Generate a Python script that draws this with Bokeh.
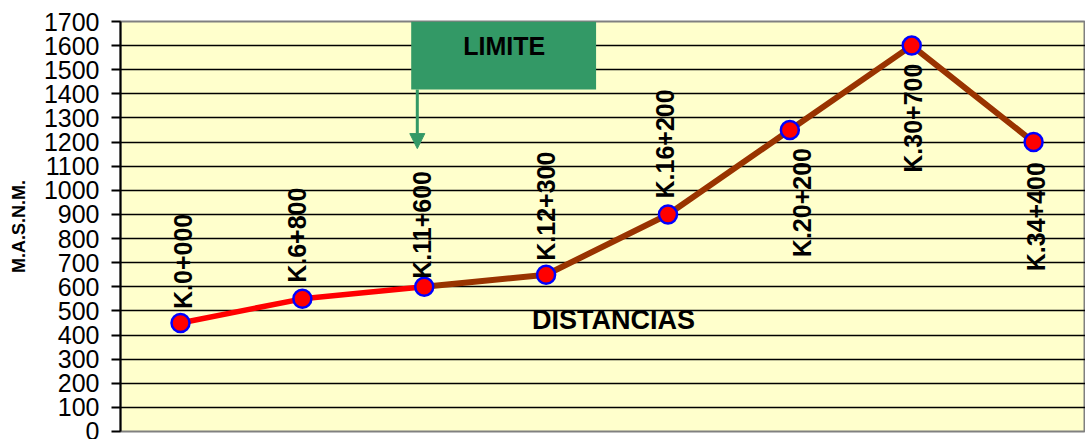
import math
from bokeh.plotting import figure
from bokeh.models import (Range1d, SingleIntervalTicker, ColumnDataSource,
                          BoxAnnotation, Label, Arrow, NormalHead)
from bokeh.core.properties import value
from bokeh.embed import file_html
from bokeh.resources import INLINE

# ---- data ----
stations = ["K.0+000", "K.6+800", "K.11+600", "K.12+300",
            "K.16+200", "K.20+200", "K.30+700", "K.34+400"]
elevations = [450, 550, 600, 650, 900, 1250, 1600, 1200]
positions = list(range(len(stations)))
y_title = "M.A.S.N.M."
x_title = "DISTANCIAS"
limit_text = "LIMITE"

# ---- style / layout parameters ----
RED_UNTIL = 2       # index where the red part of the profile ends
ABOVE_COUNT = 5     # first labels drawn above their points
label_dx = [2, -5, -2, 0, -3, 12, 1, 2]          # screen px nudges of labels
label_dy = [-14, -16, -8, -14, -16, 18, 18, 20]  # screen px gap from point
FONT = "Liberation Sans"
GREEN = "#339966"

p = figure(width=1085, height=439, output_backend="svg", toolbar_location=None,
           x_range=Range1d(-0.4924, 7.426), y_range=Range1d(0, 1700),
           x_axis_location=None,
           min_border_left=120, min_border_top=21, min_border_bottom=8,
           min_border_right=0,
           background_fill_color="#FFFFCC", border_fill_color="white",
           outline_line_color="#808080", outline_line_width=2)

ax = p.yaxis[0]
ax.ticker = SingleIntervalTicker(interval=100, num_minor_ticks=0)
ax.axis_line_color = "black"
ax.axis_line_width = 2
ax.major_tick_out = 9
ax.major_tick_in = 0
ax.major_tick_line_color = "black"
ax.major_tick_line_width = 2
ax.minor_tick_line_color = None
ax.major_label_text_font = FONT
ax.major_label_text_font_size = "25px"
ax.major_label_text_color = "black"
ax.major_label_standoff = 12
ax.axis_label = y_title
ax.axis_label_text_font = FONT
ax.axis_label_text_font_style = "bold"
ax.axis_label_text_font_size = "18px"
ax.axis_label_text_color = "black"
ax.axis_label_standoff = 12

p.xgrid.visible = False
p.ygrid.grid_line_color = "black"
p.ygrid.grid_line_width = 1.5

# profile lines
p.line(positions[:RED_UNTIL + 1], elevations[:RED_UNTIL + 1],
       line_color="#FF0000", line_width=5.5)
p.line(positions[RED_UNTIL:], elevations[RED_UNTIL:],
       line_color="#993300", line_width=6)
p.scatter(positions, elevations, size=18, fill_color="#FF0000",
          line_color="#0000FF", line_width=2.5)

# station labels
n = ABOVE_COUNT
above = ColumnDataSource(dict(x=positions[:n], y=elevations[:n], t=stations[:n],
                              dx=label_dx[:n], dy=label_dy[:n]))
below = ColumnDataSource(dict(x=positions[n:], y=elevations[n:], t=stations[n:],
                              dx=label_dx[n:], dy=label_dy[n:]))
common = dict(angle=math.pi / 2, text_baseline="middle", text_font=value(FONT),
              text_font_style="bold", text_font_size="25px", text_color="black",
              x_offset="dx", y_offset="dy")
p.text(x="x", y="y", text="t", source=above, text_align="left", **common)
p.text(x="x", y="y", text="t", source=below, text_align="right", **common)

# LIMITE box and arrow
p.add_layout(BoxAnnotation(left=1.893, right=3.41, bottom=1418, top=1700,
                           fill_color=GREEN, fill_alpha=1, line_color=None))
p.add_layout(Arrow(end=NormalHead(size=15, fill_color=GREEN, line_color=GREEN),
                   x_start=1.943, y_start=1418, x_end=1.943, y_end=1173,
                   line_color=GREEN, line_width=3))
p.add_layout(Label(x=2.656, y=1600, text=limit_text, text_align="center",
                   text_baseline="middle", text_font=FONT, text_font_style="bold",
                   text_font_size="25px", text_color="black"))

# x title inside plot
p.add_layout(Label(x=3.553, y=462, text=x_title, text_align="center",
                   text_baseline="middle", text_font=FONT, text_font_style="bold",
                   text_font_size="27px", text_color="black"))

open("out.html", "w").write(file_html(p, INLINE))
